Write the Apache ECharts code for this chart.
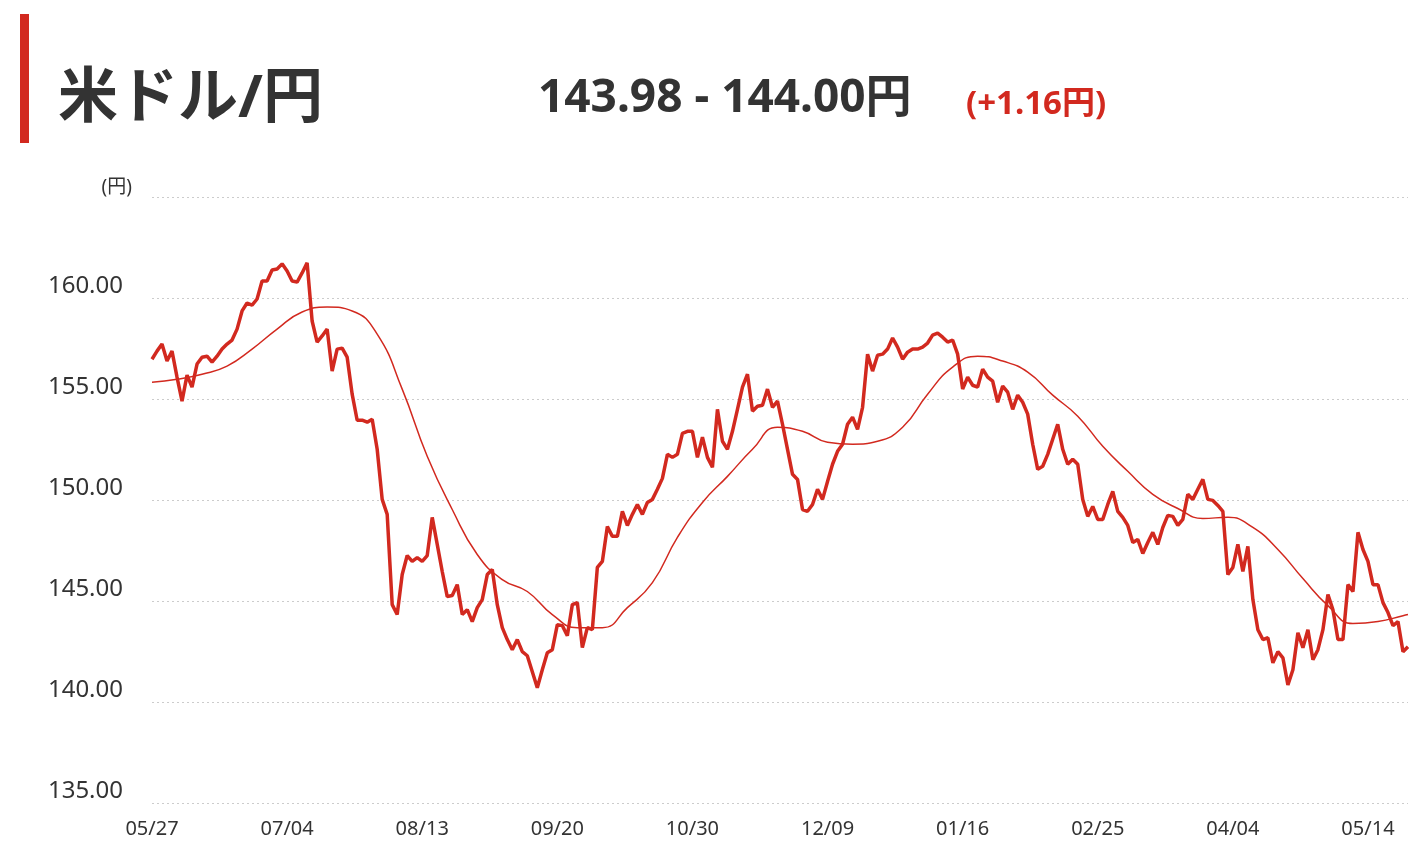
<!DOCTYPE html>
<html lang="ja">
<head>
<meta charset="UTF-8">
<title>米ドル/円</title>
<script src="https://cdn.jsdelivr.net/npm/echarts@6/dist/echarts.min.js"></script>
<style>
  html, body { margin: 0; padding: 0; background: #fff; }
  #main { width: 1428px; height: 854px; }
</style>
</head>
<body>
<div id="main"></div>
<script>
// 日足の終値（左から右へ）
var prices = [
  156.97,157.37,157.72,156.88,157.37,156.08,154.89,156.18,155.59,156.73,
  157.07,157.12,156.83,157.12,157.47,157.72,157.92,158.46,159.36,159.75,
  159.65,159.95,160.84,160.84,161.39,161.44,161.69,161.34,160.84,160.79,
  161.24,161.74,158.86,157.82,158.12,158.46,156.38,157.47,157.52,157.07,
  155.24,153.95,153.95,153.85,154.00,152.51,150.03,149.29,144.82,144.33,
  146.31,147.25,146.96,147.15,146.96,147.25,149.14,147.80,146.46,145.22,
  145.27,145.81,144.33,144.57,143.98,144.67,145.07,146.31,146.56,144.82,
  143.68,143.09,142.59,143.09,142.49,142.29,141.50,140.71,141.60,142.44,
  142.59,143.83,143.78,143.28,144.82,144.92,142.69,143.68,143.58,146.66,
  146.96,148.69,148.20,148.20,149.44,148.74,149.29,149.78,149.29,149.88,
  150.03,150.53,151.07,152.26,152.11,152.26,153.30,153.40,153.40,152.11,
  153.11,152.11,151.62,154.49,152.91,152.51,153.40,154.49,155.59,156.23,
  154.40,154.64,154.69,155.49,154.59,154.89,153.75,152.51,151.27,151.02,
  149.53,149.44,149.78,150.53,150.03,150.92,151.77,152.41,152.76,153.75,
  154.10,153.50,154.59,157.22,156.38,157.17,157.22,157.47,158.02,157.57,
  156.97,157.32,157.47,157.47,157.57,157.77,158.16,158.26,158.06,157.82,
  157.92,157.22,155.49,156.08,155.68,155.59,156.48,156.08,155.88,154.84,
  155.64,155.34,154.49,155.19,154.84,154.25,152.76,151.52,151.67,152.26,
  153.01,153.75,152.51,151.77,152.02,151.77,150.03,149.19,149.68,149.04,
  149.04,149.78,150.43,149.44,149.14,148.74,147.90,148.05,147.35,147.90,
  148.40,147.80,148.64,149.24,149.19,148.74,149.04,150.28,150.03,150.53,
  151.02,150.03,149.98,149.73,149.44,146.31,146.66,147.80,146.46,147.70,
  145.07,143.58,143.09,143.18,141.94,142.49,142.19,140.85,141.60,143.43,
  142.69,143.58,142.09,142.59,143.58,145.32,144.57,143.09,143.09,145.81,
  145.47,148.40,147.55,146.96,145.81,145.81,144.92,144.43,143.78,143.98,
  142.49,142.74
];

// 移動平均（5本ごとに読み取り）
var maStep = 5;
var maValues = [
  155.83,155.98,156.23,156.63,157.47,158.46,159.31,159.55,159.36,158.21,
  155.49,152.17,149.53,147.30,146.06,145.47,144.33,143.68,143.68,144.67,
  145.91,148.15,149.88,151.17,152.51,153.60,153.40,152.86,152.76,152.91,
  153.60,155.24,156.58,157.12,156.88,156.33,155.19,154.15,152.66,151.42,
  150.28,149.58,149.09,149.14,148.64,147.55,146.11,144.77,143.88,143.98,
  144.27
];
var maLast = 144.33;

var tickStep = 27;
var tickLabels = ['05/27','07/04','08/13','09/20','10/30','12/09','01/16','02/25','04/04','05/14'];

var cats = prices.map(function (v, i) { return i; });
var ma = prices.map(function () { return null; });
maValues.forEach(function (v, k) { if (k * maStep < ma.length) ma[k * maStep] = v; });
ma[ma.length - 1] = maLast;

var red = '#d2291f';
var font = '"Noto Sans", "Noto Sans CJK JP", sans-serif';

var chart = echarts.init(document.getElementById('main'));
chart.setOption({
  animation: false,
  textStyle: { fontFamily: font },
  graphic: [
    { type: 'rect', shape: { x: 20, y: 14, width: 9, height: 129 }, style: { fill: red } },
    { type: 'text', left: 58, top: 70, style: { text: '米ドル/円', fill: '#333', font: 'bold 60px ' + font } },
    { type: 'text', left: 538, top: 76, style: { text: '143.98 - 144.00円', fill: '#333', font: 'bold 46px ' + font } },
    { type: 'text', left: 966, top: 88, style: { text: '(+1.16円)', fill: red, font: 'bold 33px ' + font } }
  ],
  grid: { left: 152, right: 20, top: 197, bottom: 51 },
  xAxis: {
    type: 'category',
    data: cats,
    boundaryGap: false,
    axisLine: { show: false },
    axisTick: { show: false },
    axisLabel: {
      interval: 0,
      color: '#333',
      fontSize: 20,
      margin: 16,
      formatter: function (v) {
        var i = +v;
        return i % tickStep === 0 ? (tickLabels[i / tickStep] || '') : '';
      }
    },
    splitLine: { show: false }
  },
  yAxis: {
    type: 'value',
    min: 135,
    max: 165,
    interval: 5,
    name: '(円)',
    nameLocation: 'end',
    nameGap: 0,
    nameTextStyle: { color: '#333', fontSize: 19, align: 'right', verticalAlign: 'bottom', padding: [0, 20, 0, 0] },
    axisLine: { show: false },
    axisTick: { show: false },
    axisLabel: {
      color: '#333',
      fontSize: 24,
      margin: 29,
      verticalAlign: 'bottom',
      formatter: function (v) { return v >= 165 ? '' : v.toFixed(2); }
    },
    splitLine: { lineStyle: { color: '#ccc', type: [2, 3], width: 1 } }
  },
  series: [
    {
      type: 'line',
      data: ma,
      connectNulls: true,
      smooth: true,
      symbol: 'none',
      lineStyle: { color: red, width: 1.5 }
    },
    {
      type: 'line',
      data: prices,
      symbol: 'none',
      lineStyle: { color: red, width: 3.5 }
    }
  ]
});
</script>
</body>
</html>
